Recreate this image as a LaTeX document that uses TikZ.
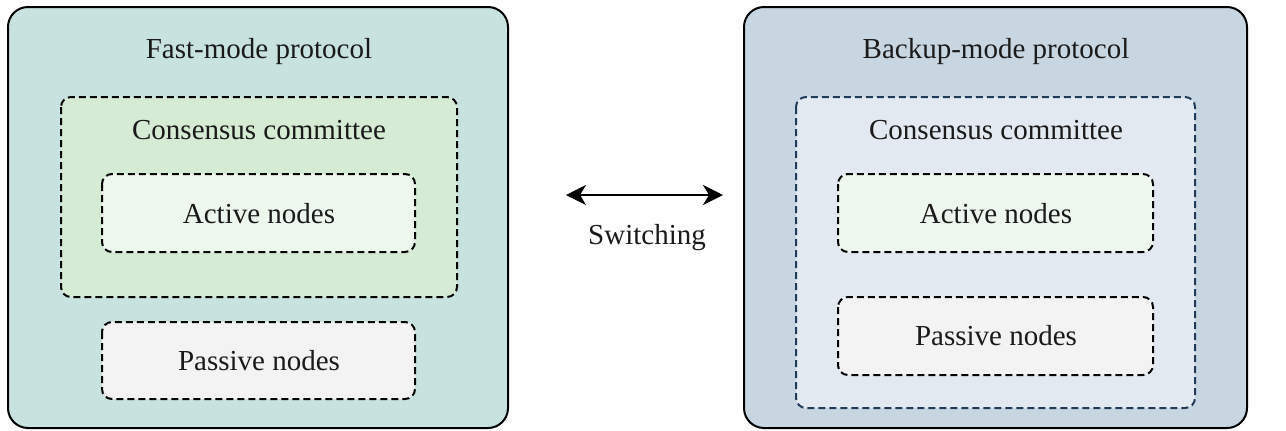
\documentclass[tikz,border=0pt]{standalone}
\usepackage{fontspec}
\setmainfont{Liberation Serif}
\newfontfamily\figfont{Liberation Serif}
\usetikzlibrary{arrows.meta}
\definecolor{fastbg}{HTML}{C8E2E0}
\definecolor{backbg}{HTML}{C8D6E2}
\definecolor{commgreen}{HTML}{D5EBD4}
\definecolor{commblue}{HTML}{E2E9F1}
\definecolor{activebg}{HTML}{EEF7EE}
\definecolor{passivebg}{HTML}{F3F3F3}
\definecolor{commedge}{HTML}{1F3B57}
\definecolor{txt}{HTML}{1A1A1A}
\tikzset{
  outerbox/.style = {draw, line width=1pt, rounded corners=10pt},
  dashbox/.style = {draw, line width=1pt, dash pattern=on 3.5pt off 2pt, rounded corners=5pt},
  lbl/.style = {text=txt, font=\figfont\fontsize{14.5}{17}\selectfont}
}
\begin{document}
\begin{tikzpicture}[x=0.5pt, y=-0.5pt]
\useasboundingbox (0,0) rectangle (1286,430);
\draw[outerbox, fill=fastbg] (8,7) rectangle (508,428);
\draw[dashbox, fill=commgreen] (61,97) rectangle (457,297);
\draw[dashbox, fill=activebg] (102,174) rectangle (415,252);
\draw[dashbox, fill=passivebg] (102,322) rectangle (415,399);
\path (259,52) node[lbl] (fast) {Fast-mode protocol};
\path (259,130) node[lbl] (fastcomm) {Consensus committee};
\path (259,214) node[lbl] (fastact) {Active nodes};
\path (259,361) node[lbl] (fastpas) {Passive nodes};
\draw[outerbox, fill=backbg] (744,7) rectangle (1247,428);
\draw[dashbox, draw=commedge, fill=commblue] (796,97) rectangle (1195,408);
\draw[dashbox, fill=activebg] (838,174) rectangle (1153,252);
\draw[dashbox, fill=passivebg] (838,297) rectangle (1153,375);
\path (996,52) node[lbl] (back) {Backup-mode protocol};
\path (996,130) node[lbl] (backcomm) {Consensus committee};
\path (996,214) node[lbl] (backact) {Active nodes};
\path (996,336) node[lbl] (backpas) {Passive nodes};
\coordinate (swl) at (566,195);
\coordinate (swr) at (723,195);
\draw[line width=1.1pt, {Stealth[length=10pt,width=10pt,inset=3pt]}-{Stealth[length=10pt,width=10pt,inset=3pt]}] (swl) -- (swr);
\path (647,238) node[lbl] (switch) {Switching};
\end{tikzpicture}
\end{document}
